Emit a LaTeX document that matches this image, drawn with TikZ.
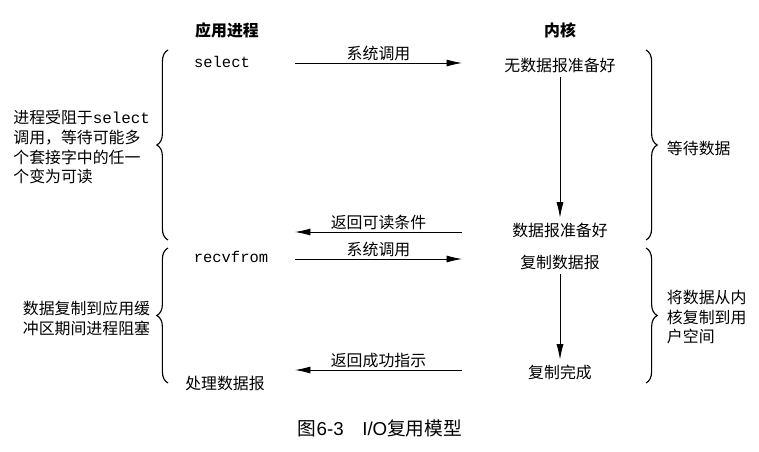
\documentclass[tikz,border=0pt]{standalone}
\usepackage{fontspec}
\setsansfont{Liberation Sans}
\setmonofont{Liberation Mono}
\newfontfamily\cjk{Noto Sans CJK SC}
\usepackage{tikz}
\usetikzlibrary{arrows.meta,decorations.pathreplacing}

\begin{document}
\begin{tikzpicture}[
    txt/.style={font=\cjk\fontsize{11.3}{14.2}\selectfont},
    code/.style={font=\ttfamily\fontsize{11}{13}\selectfont},
    head/.style={font=\cjk\bfseries\fontsize{11.3}{14}\selectfont},
    call/.style={-{Latex[length=11pt,width=5pt]}, line width=0.6pt},
    wrap/.style={decorate, decoration={brace, amplitude=0.28cm}, line width=0.8pt}]
    \useasboundingbox (0,0) rectangle (18.975,11.275);
    % column headers
    \node[head] (app) at (5.675, 10.525) {应用进程};
    \node[head] (kern) at (14.0, 10.525) {内核};
    % application side
    \node[code] (sel) at (5.55, 9.725) {select};
    \node[code] (recv) at (5.775, 4.85) {recvfrom};
    \node[txt] (proc) at (5.625, 1.7) {处理数据报};
    % kernel side
    \node[txt] (nodata) at (14.0, 9.65) {无数据报准备好};
    \node[txt] (ready) at (14.0, 5.525) {数据报准备好};
    \node[txt] (copy) at (14.0, 4.725) {复制数据报};
    \node[txt] (done) at (14.0, 1.975) {复制完成};
    \draw[call] (nodata) -- (ready);
    \draw[call] (copy) -- (done);
    % calls and returns
    \coordinate (s1) at (7.375, 9.7);   \coordinate (k1) at (11.55, 9.7);
    \coordinate (s2) at (7.375, 5.475); \coordinate (k2) at (11.55, 5.475);
    \coordinate (s3) at (7.375, 4.8);   \coordinate (k3) at (11.55, 4.8);
    \coordinate (s4) at (7.375, 2.025); \coordinate (k4) at (11.55, 2.025);
    \draw[call] (s1) -- node[txt, above, inner sep=1pt] (l1) {系统调用} (k1);
    \draw[call] (k2) -- node[txt, above, inner sep=1pt] (l2) {返回可读条件} (s2);
    \draw[call] (s3) -- node[txt, above, inner sep=1pt] (l3) {系统调用} (k3);
    \draw[call] (k4) -- node[txt, above, inner sep=1pt] (l4) {返回成功指示} (s4);
    % braces
    \coordinate (lb1b) at (4.2, 5.275);   \coordinate (lb1t) at (4.2, 10.025);
    \coordinate (lb2b) at (4.2, 1.7);     \coordinate (lb2t) at (4.2, 5.075);
    \coordinate (rb1t) at (16.15, 10.025); \coordinate (rb1b) at (16.15, 5.275);
    \coordinate (rb2t) at (16.15, 5.075);  \coordinate (rb2b) at (16.15, 1.7);
    \draw[wrap] (lb1b) -- (lb1t);
    \draw[wrap] (lb2b) -- (lb2t);
    \draw[wrap] (rb1t) -- (rb1b);
    \draw[wrap] (rb2t) -- (rb2b);
    \node[txt, anchor=east, align=left] (block) at (3.875, 7.6)
        {进程受阻于\texttt{select}\\调用，等待可能多\\个套接字中的任一\\个变为可读};
    \node[txt, anchor=east, align=left] (block2) at (3.875, 3.325)
        {数据复制到应用缓\\冲区期间进程阻塞};
    \node[txt, anchor=west] (wait) at (16.55, 7.575) {等待数据};
    \node[txt, anchor=west, align=left] (move) at (16.55, 3.35)
        {将数据从内\\核复制到用\\户空间};
    % caption
    \node[font=\fontsize{13.3}{16}\selectfont] (cap) at (9.5, 0.575)
        {{\cjk 图}{\sffamily 6-3\quad I/O}{\cjk 复用模型}};
\end{tikzpicture}
\end{document}
